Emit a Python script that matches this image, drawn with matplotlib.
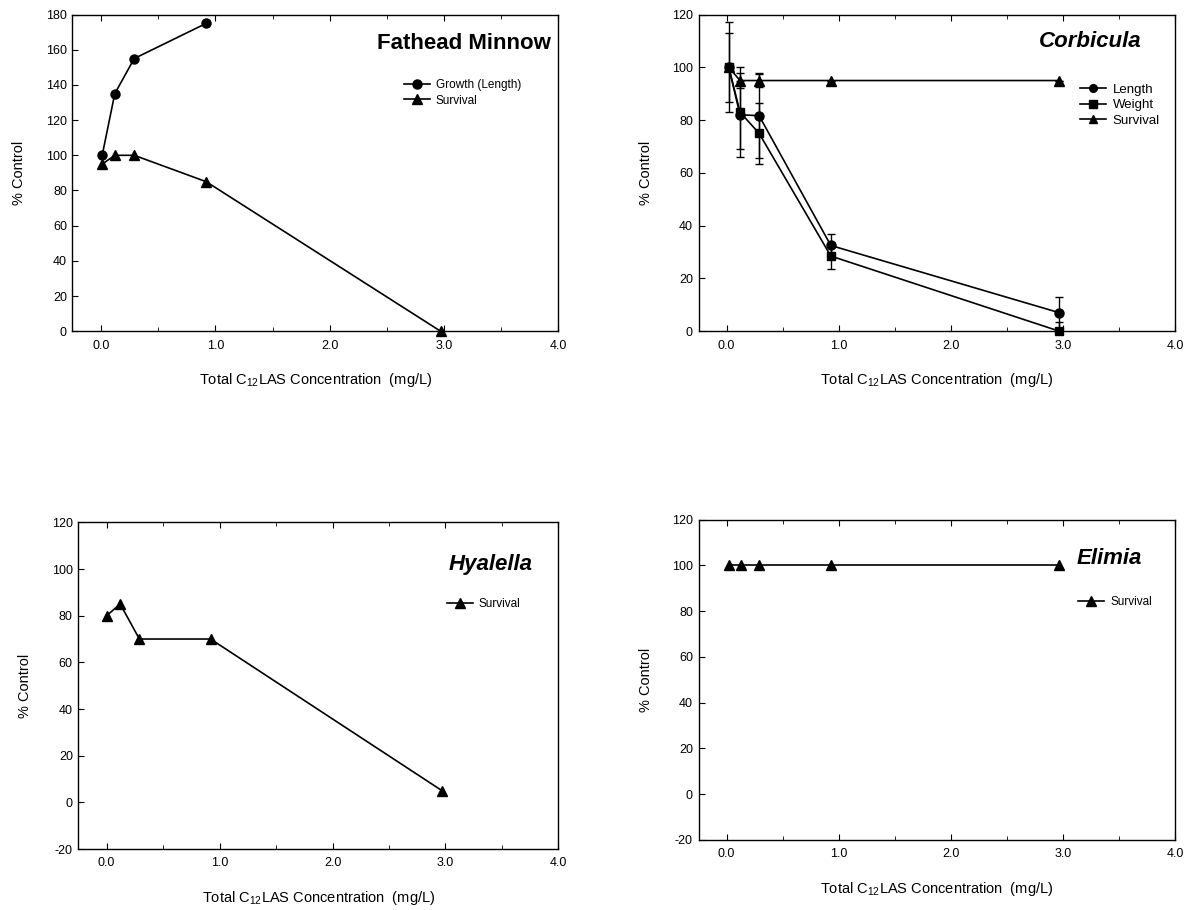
import matplotlib
matplotlib.use("Agg")
import matplotlib.pyplot as plt
from matplotlib.lines import Line2D
from matplotlib.ticker import MultipleLocator, FormatStrFormatter

plt.rcParams['font.family'] = ['Liberation Sans', 'DejaVu Sans']
plt.rcParams['mathtext.fontset'] = 'custom'
plt.rcParams['mathtext.rm'] = 'Liberation Sans'
plt.rcParams['mathtext.it'] = 'Liberation Sans:italic'
plt.rcParams['axes.unicode_minus'] = False

# Fathead minnow
fm_x_growth = [0.01, 0.12, 0.29, 0.92]
fm_growth = [100, 135, 155, 175]
fm_x_surv = [0.01, 0.12, 0.29, 0.92, 2.97]
fm_surv = [95, 100, 100, 85, 0]

# Corbicula
cb_x = [0.02, 0.12, 0.29, 0.93, 2.97]
cb_length = [100, 82, 81.7, 32.5, 7]
cb_length_err = [17, 13, 16, 4.5, 6]
cb_weight = [100, 83, 75, 28.5, 0]
cb_weight_err = [13, 17, 11.5, 5, 3.5]
cb_surv = [100, 95, 95, 95, 95]
cb_surv_err = [0, 3, 2.5, 0, 0]

# Hyalella
hy_x = [0.0, 0.12, 0.29, 0.92, 2.97]
hy_surv = [80, 85, 70, 70, 5]

# Elimia
el_x = [0.02, 0.13, 0.29, 0.93, 2.97]
el_surv = [100, 100, 100, 100, 100]

xlabel = 'Total C$_{12}$LAS Concentration  (mg/L)'

fig = plt.figure(figsize=(11.88, 9.10), dpi=100)
ax1 = fig.add_axes([0.061, 0.636, 0.409, 0.348])
ax2 = fig.add_axes([0.588, 0.636, 0.401, 0.348])
ax3 = fig.add_axes([0.066, 0.067, 0.404, 0.359])
ax4 = fig.add_axes([0.588, 0.077, 0.401, 0.352])

lw = 1.2
ms = 6.5


def style(ax, ymin, ymax, ystep):
    ax.set_xlim(-0.25, 4.0)
    ax.set_ylim(ymin, ymax)
    ax.xaxis.set_major_locator(MultipleLocator(1.0))
    ax.xaxis.set_minor_locator(MultipleLocator(0.5))
    ax.xaxis.set_major_formatter(FormatStrFormatter('%.1f'))
    ax.yaxis.set_major_locator(MultipleLocator(ystep))
    ax.tick_params(which='both', direction='in', labelsize=9, top=True, right=False)
    ax.tick_params(which='major', length=4, pad=6)
    ax.tick_params(which='minor', length=3)
    ax.tick_params(axis='y', pad=4)
    for s in ax.spines.values():
        s.set_linewidth(1.0)
    ax.set_xlabel(xlabel, fontsize=10.5, labelpad=14)
    ax.set_ylabel('% Control', fontsize=10.5, labelpad=14)


# Fathead minnow
ax1.plot(fm_x_growth, fm_growth, '-o', color='black', lw=lw, ms=ms, label='Growth (Length)',
         clip_on=False)
ax1.plot(fm_x_surv, fm_surv, '-^', color='black', lw=lw, ms=ms, label='Survival', clip_on=False)
style(ax1, 0, 180, 20)
ax1.text(0.985, 0.91, 'Fathead Minnow', transform=ax1.transAxes, ha='right', va='center',
         fontsize=16, fontweight='bold')
ax1.legend(loc='upper left', bbox_to_anchor=(0.66, 0.83), frameon=False, fontsize=8.5,
           handlelength=2.2, labelspacing=0.3, handletextpad=0.5)

# Corbicula
for yv, ev, m, s in [(cb_length, cb_length_err, 'o', ms), (cb_weight, cb_weight_err, 's', ms - 0.5),
                     (cb_surv, cb_surv_err, '^', ms)]:
    ln, caps, bars = ax2.errorbar(cb_x, yv, yerr=ev, fmt='-' + m, color='black', lw=lw, ms=s,
                                  capsize=3, elinewidth=1)
    ln.set_clip_on(False)
style(ax2, 0, 120, 20)
ax2.text(0.93, 0.915, 'Corbicula', transform=ax2.transAxes, ha='right', va='center',
         fontsize=16, fontweight='bold', fontstyle='italic')
handles = [Line2D([], [], color='black', lw=lw, marker=m, ms=ms - 1) for m in ['o', 's', '^']]
ax2.legend(handles, ['Length', 'Weight', 'Survival'], loc='upper left',
           bbox_to_anchor=(0.775, 0.82), frameon=False, fontsize=9.5,
           handlelength=2.0, labelspacing=0.25, handletextpad=0.5)

# Hyalella
ax3.plot(hy_x, hy_surv, '-^', color='black', lw=lw, ms=ms, label='Survival')
style(ax3, -20, 120, 20)
ax3.text(0.946, 0.87, 'Hyalella', transform=ax3.transAxes, ha='right', va='center',
         fontsize=16, fontweight='bold', fontstyle='italic')
ax3.legend(loc='upper left', bbox_to_anchor=(0.745, 0.80), frameon=False, fontsize=8.5,
           handlelength=2.2, handletextpad=0.5)

# Elimia
ax4.plot(el_x, el_surv, '-^', color='black', lw=lw, ms=ms, label='Survival')
style(ax4, -20, 120, 20)
ax4.text(0.93, 0.88, 'Elimia', transform=ax4.transAxes, ha='right', va='center',
         fontsize=16, fontweight='bold', fontstyle='italic')
ax4.legend(loc='upper left', bbox_to_anchor=(0.775, 0.795), frameon=False, fontsize=8.5,
           handlelength=2.2, handletextpad=0.5)

fig.savefig('out.png', dpi=100)
